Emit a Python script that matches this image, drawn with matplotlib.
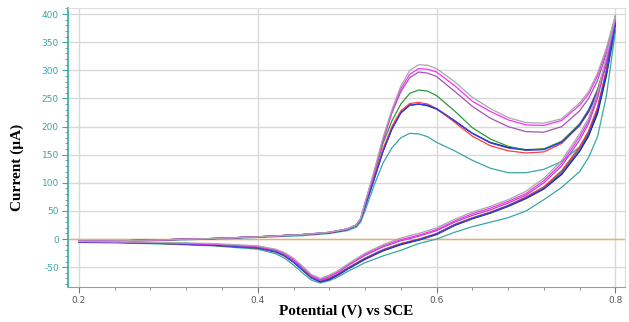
import matplotlib
matplotlib.use("Agg")
from matplotlib import pyplot as plt
from matplotlib.ticker import MultipleLocator

plt.rcParams["axes.unicode_minus"] = False

# potential grids (V vs SCE)
E_fwd = [0.20, 0.25, 0.30, 0.35, 0.40, 0.45, 0.48, 0.50, 0.51, 0.515, 0.52, 0.53, 0.54, 0.55,
         0.56, 0.57, 0.58, 0.59, 0.60, 0.62, 0.64, 0.66, 0.68, 0.70, 0.72, 0.74, 0.76, 0.77,
         0.78, 0.79, 0.80]
E_rev = [0.80, 0.79, 0.78, 0.77, 0.76, 0.74, 0.72, 0.70, 0.68, 0.66, 0.64, 0.62, 0.60, 0.58,
         0.56, 0.54, 0.52, 0.50, 0.49, 0.48, 0.47, 0.46, 0.45, 0.44, 0.43, 0.42, 0.40, 0.35,
         0.30, 0.25, 0.20]

# currents (uA), forward scan
gray_fwd = [-4, -3, -1, 1, 4, 8, 12, 18, 25, 36, 65, 120, 180, 230, 272, 300, 310, 309, 303,
            280, 252, 232, 216, 207, 206, 214, 242, 262, 295, 340, 398]
magenta_fwd = [-4, -3, -1, 1, 4, 8, 12, 18, 25, 36, 64, 118, 177, 227, 267, 293, 303, 302, 297,
               273, 245, 227, 212, 203, 202, 211, 238, 258, 290, 336, 396]
purple_fwd = [-4, -3, -1, 1, 4, 8, 12, 18, 25, 36, 63, 116, 174, 224, 262, 287, 297, 295, 289,
              263, 236, 215, 200, 191, 190, 200, 228, 250, 282, 330, 394]
green_fwd = [-4, -3, -1, 1, 4, 8, 12, 18, 25, 35, 62, 115, 170, 210, 240, 259, 265, 263, 255,
             228, 198, 178, 165, 158, 160, 174, 205, 230, 266, 318, 390]
red_fwd = [-4, -3, -1, 1, 4, 8, 11, 17, 24, 34, 60, 110, 160, 200, 228, 241, 243, 240, 232,
           208, 183, 166, 157, 153, 155, 170, 202, 228, 263, 318, 388]
blue_fwd = [-4, -3, -1, 1, 4, 8, 11, 17, 24, 34, 58, 105, 155, 195, 224, 238, 240, 238, 232,
            211, 188, 171, 162, 158, 159, 172, 203, 228, 262, 315, 385]
black_fwd = [-4, -3, -1, 1, 4, 8, 11, 17, 24, 34, 58, 106, 156, 196, 225, 238, 240, 237, 231,
             210, 188, 172, 163, 159, 160, 173, 202, 226, 260, 312, 383]
teal_fwd = [-5, -4, -2, 0, 3, 6, 10, 15, 21, 30, 50, 95, 135, 162, 180, 188, 187, 182, 172,
            157, 140, 126, 118, 118, 124, 138, 164, 185, 222, 290, 375]

# currents (uA), reverse scan
gray_rev = [395, 325, 260, 215, 187, 140, 108, 85, 70, 58, 48, 35, 20, 10, 2, -10, -25, -45,
            -56, -64, -70, -63, -48, -34, -24, -18, -12, -8, -6, -5, -4]
magenta_rev = [393, 320, 255, 210, 182, 135, 104, 81, 67, 55, 45, 32, 17, 7, -1, -12, -27, -47,
               -58, -66, -72, -65, -50, -36, -25, -19, -13, -9, -7, -5, -4]
purple_rev = [392, 315, 250, 205, 176, 130, 100, 78, 64, 52, 42, 30, 15, 5, -3, -14, -29, -48,
              -59, -67, -73, -66, -51, -37, -26, -20, -14, -9, -7, -5, -4]
green_rev = [387, 300, 232, 190, 162, 120, 92, 74, 59, 47, 37, 25, 9, -1, -8, -19, -34, -52,
             -62, -70, -75, -68, -54, -40, -29, -22, -15, -11, -8, -6, -5]
red_rev = [388, 302, 234, 192, 164, 122, 93, 75, 60, 48, 38, 26, 10, 0, -8, -19, -34, -52,
           -62, -70, -75, -68, -54, -40, -29, -22, -15, -11, -8, -6, -5]
blue_rev = [385, 296, 228, 186, 158, 117, 90, 73, 59, 47, 37, 25, 9, -1, -9, -20, -35, -53,
            -63, -71, -76, -69, -55, -41, -30, -22, -15, -11, -8, -6, -5]
black_rev = [384, 292, 224, 183, 156, 115, 89, 72, 58, 46, 36, 24, 8, -2, -10, -21, -36, -54,
             -64, -72, -76, -69, -55, -41, -30, -23, -16, -11, -8, -6, -5]
teal_rev = [370, 255, 182, 145, 120, 92, 70, 50, 38, 30, 22, 12, 0, -8, -20, -30, -42, -58,
            -67, -74, -78, -73, -60, -46, -34, -26, -18, -12, -9, -7, -6]

curves = [
    ("#3aa6a6", teal_fwd, teal_rev),
    ("#222222", black_fwd, black_rev),
    ("#2d9a3a", green_fwd, green_rev),
    ("#ff3a3a", red_fwd, red_rev),
    ("#2a3cff", blue_fwd, blue_rev),
    ("#a055b5", purple_fwd, purple_rev),
    ("#ff2cff", magenta_fwd, magenta_rev),
    ("#a8a8a8", gray_fwd, gray_rev),
]

fig = plt.figure(figsize=(6.29, 3.22), dpi=100)
ax = fig.add_axes([0.108, 0.109, 0.886, 0.866])

for c, fwd, rev in curves:
    ax.plot(E_fwd + E_rev, fwd + rev, color=c, lw=0.9)

ax.axhline(0, color="#f5a860", lw=1.0, zorder=1)

ax.set_xlim(0.1877, 0.811)
ax.set_ylim(-85, 410.7)
ax.xaxis.set_major_locator(MultipleLocator(0.2))
ax.xaxis.set_minor_locator(MultipleLocator(0.04))
ax.yaxis.set_major_locator(MultipleLocator(50))
ax.yaxis.set_minor_locator(MultipleLocator(10))
ax.grid(True, which="major", color="#d9d9d9", lw=1.0, zorder=0)
ax.set_axisbelow(True)

teal = "#3aa6a6"
ax.tick_params(axis="y", which="both", colors=teal, labelsize=6.5, direction="out", pad=2.5)
ax.tick_params(axis="y", which="major", length=4)
ax.tick_params(axis="y", which="minor", length=2)
ax.tick_params(axis="x", which="both", colors="#777777", labelsize=6.5, direction="out",
               labelcolor="#555555", pad=2.5)
ax.tick_params(axis="x", which="major", length=4)
ax.tick_params(axis="x", which="minor", length=2.5)
ax.set_xticks([0.2, 0.4, 0.6, 0.8])
ax.set_xticklabels(["0.2", "0.4", "0.6", "0.8"])

ax.spines["left"].set_color(teal)
ax.spines["left"].set_linewidth(1.2)
ax.spines["bottom"].set_color("#9a9a9a")
ax.spines["top"].set_color("#dddddd")
ax.spines["right"].set_color("#dddddd")

ax.set_xlabel("Potential (V) vs SCE", family="Liberation Serif", fontweight="bold",
              fontsize=11, labelpad=0)
ax.set_ylabel("Current (\u00b5A)", family="Liberation Serif", fontweight="bold",
              fontsize=11)
ax.yaxis.set_label_coords(-0.078, 0.43)

fig.savefig("out.png", dpi=100)
